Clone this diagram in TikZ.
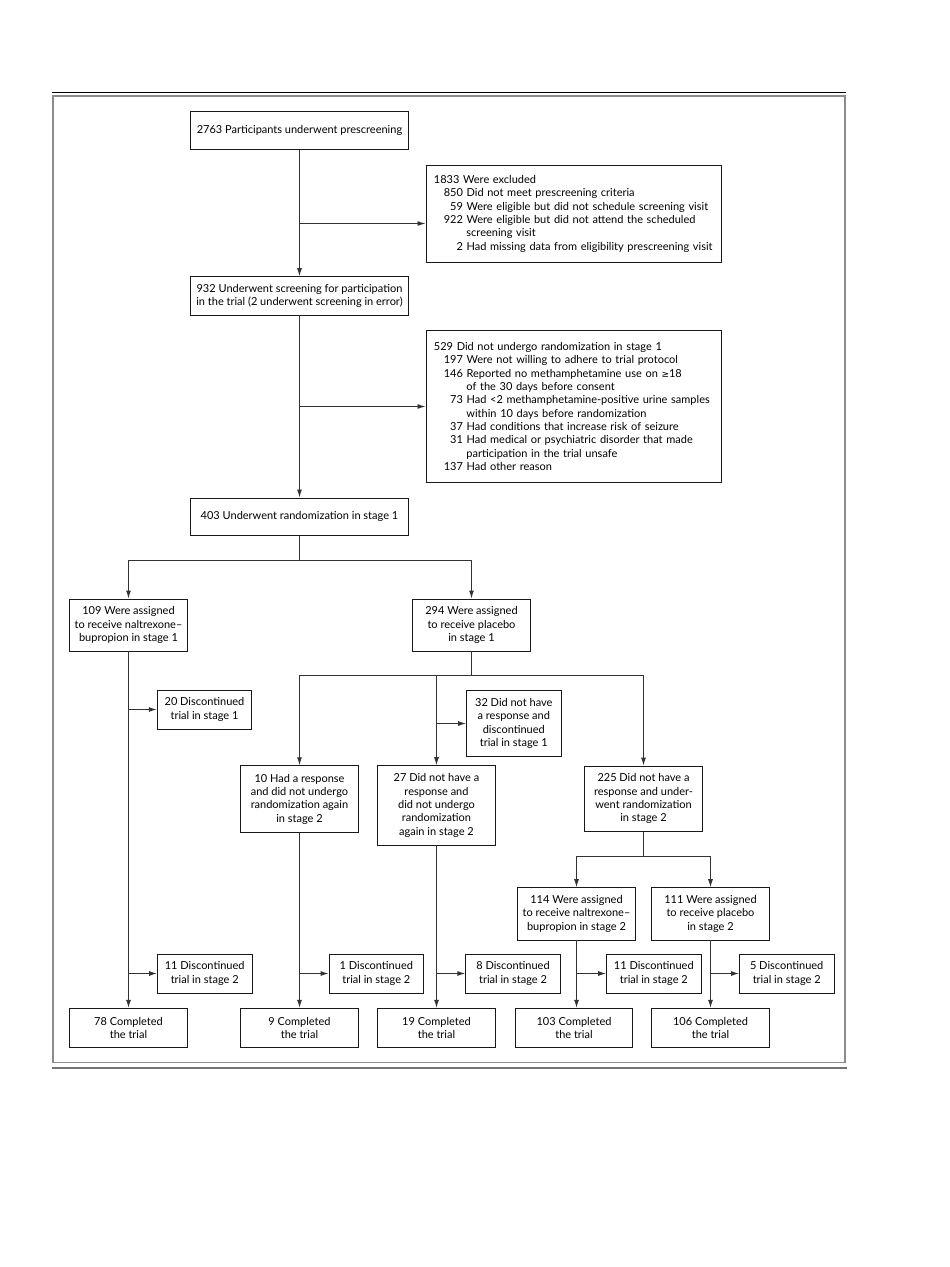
\documentclass[tikz,border=0pt]{standalone}
\usepackage{fontspec}
\setmainfont{Lato}
\newfontfamily\symfont{DejaVu Sans}
\usepackage{tikz}
\usetikzlibrary{positioning,arrows.meta}
\usepackage{xcolor}
\newcommand{\itm}[2]{\makebox[29pt][r]{#1} #2}
\newcommand{\cnt}[1]{\hspace*{32.5pt}#1}

\begin{document}
\begin{tikzpicture} [x=1pt, y=-1pt,
	box/.style={draw, black!90, line width=0.9pt, text=black, align=center, inner sep=0pt, font=\fontsize{11}{13.33}\selectfont},
	list/.style={box, align=left, inner xsep=8pt, text width=279.7pt},
	sidebox/.style={box, minimum width=94.5pt, minimum height=39pt},
	endbox/.style={box, minimum width=117.4pt, minimum height=39pt},
	arm/.style={box, minimum width=117.4pt},
	link/.style={black!80, line width=0.95pt},
	tip/.style={link, -{Latex[length=8pt, width=5pt]}}]
	\useasboundingbox (0, 0) rectangle (950, 1267);

	\draw [black, line width=1pt] (52, 92.5)--(846, 92.5);
	\draw [black!45, line width=1.1pt] (53, 96) rectangle (845, 1062.5);
	\draw [black!55, line width=2pt] (52, 1067.5)--(847, 1067.5);

	\node [box, minimum width=218pt, minimum height=37.6pt] (pre) at (299.5, 130.5) {2763 Participants underwent prescreening};
	\node [box, minimum width=218pt, minimum height=38.3pt] (scr) at (299.5, 295.8) {932 Underwent screening for participation\\in the trial (2 underwent screening in error)};
	\node [list, minimum height=97.3pt] (exc) at (573.8, 213.7) {1833 Were excluded\\
		\itm{850}{Did not meet prescreening criteria}\\
		\itm{59}{Were eligible but did not schedule screening visit}\\
		\itm{922}{Were eligible but did not attend the scheduled}\\
		\cnt{screening visit}\\
		\itm{2}{Had missing data from eligibility prescreening visit}};
	\node [list, minimum height=151.6pt] (nrd) at (573.8, 406.5) {529 Did not undergo randomization in stage 1\\
		\itm{197}{Were not willing to adhere to trial protocol}\\
		\itm{146}{Reported no methamphetamine use on {\symfont\fontsize{9}{10}\selectfont ≥}18}\\
		\cnt{of the 30 days before consent}\\
		\itm{73}{Had <2 methamphetamine-positive urine samples}\\
		\cnt{within 10 days before randomization}\\
		\itm{37}{Had conditions that increase risk of seizure}\\
		\itm{31}{Had medical or psychiatric disorder that made}\\
		\cnt{participation in the trial unsafe}\\
		\itm{137}{Had other reason}};
	\node [box, minimum width=218pt, minimum height=37.7pt] (rnd) at (299.5, 516.8) {403 Underwent randomization in stage 1};

	\node [arm, minimum height=52pt] (nb1) at (128.5, 625) {109 Were assigned\\to receive naltrexone–\\bupropion in stage 1};
	\node [arm, minimum height=52pt] (pl1) at (471.5, 625) {294 Were assigned\\to receive placebo\\in stage 1};
	\node [sidebox] (dc20) at (204.5, 709.5) {20 Discontinued\\trial in stage 1};
	\node [sidebox, minimum height=65.7pt] (dc32) at (513.8, 723.5) {32 Did not have\\a response and\\discontinued\\trial in stage 1};

	\node [arm, minimum height=66.6pt] (rsp10) at (299.5, 799) {10 Had a response\\and did not undergo\\randomization again\\in stage 2};
	\node [arm, minimum height=79.3pt] (nr27) at (436.5, 805.3) {27 Did not have a\\response and\\did not undergo\\randomization\\again in stage 2};
	\node [arm, minimum height=65.3pt] (rr225) at (643.5, 798.7) {225 Did not have a\\response and under-\\went randomization\\in stage 2};

	\node [arm, minimum width=118pt, minimum height=52.3pt] (nb2) at (576.5, 913.8) {114 Were assigned\\to receive naltrexone–\\bupropion in stage 2};
	\node [arm, minimum width=118pt, minimum height=52.3pt] (pl2) at (710.5, 913.8) {111 Were assigned\\to receive placebo\\in stage 2};

	\node [sidebox] (dc11a) at (204.7, 973.5) {11 Discontinued\\trial in stage 2};
	\node [sidebox] (dc1) at (376.3, 973.5) {1 Discontinued\\trial in stage 2};
	\node [sidebox] (dc8) at (513, 973.5) {8 Discontinued\\trial in stage 2};
	\node [sidebox] (dc11b) at (653.8, 973.5) {11 Discontinued\\trial in stage 2};
	\node [sidebox] (dc5) at (786.7, 973.5) {5 Discontinued\\trial in stage 2};

	\node [endbox] (cp78) at (128.5, 1027.8) {78 Completed\\the trial};
	\node [endbox] (cp9) at (299.5, 1027.8) {9 Completed\\the trial};
	\node [endbox] (cp19) at (436.5, 1027.8) {19 Completed\\the trial};
	\node [endbox] (cp103) at (574, 1027.8) {103 Completed\\the trial};
	\node [endbox] (cp106) at (710.5, 1027.8) {106 Completed\\the trial};

	\coordinate (ex) at (299.5, 223.5);
	\coordinate (s1) at (299.5, 560.5);
	\coordinate (s2) at (471.5, 675.5);
	\coordinate (s3) at (643.5, 856.5);

	\draw [tip] (pre.south)--(scr.north);
	\draw [tip] (ex)--(ex -| exc.west);
	\draw [tip] (scr.south)--(rnd.north);
	\draw [tip] (scr.south |- nrd.west)--(nrd.west);

	\draw [link] (rnd.south)--(s1);
	\draw [tip] (s1) -| (nb1.north);
	\draw [tip] (s1) -| (pl1.north);

	\draw [tip] (nb1.south)--(cp78.north);
	\draw [tip] (nb1.south |- dc20.west)--(dc20.west);
	\draw [tip] (nb1.south |- dc11a.west)--(dc11a.west);

	\draw [link] (pl1.south)--(s2);
	\draw [tip] (s2) -| (rsp10.north);
	\draw [tip] (s2) -| (rr225.north);
	\draw [tip] (s2 -| nr27.north)--(nr27.north);
	\draw [tip] (nr27.north |- dc32.west)--(dc32.west);

	\draw [tip] (rsp10.south)--(cp9.north);
	\draw [tip] (rsp10.south |- dc1.west)--(dc1.west);
	\draw [tip] (nr27.south)--(cp19.north);
	\draw [tip] (nr27.south |- dc8.west)--(dc8.west);

	\draw [link] (rr225.south)--(s3);
	\draw [tip] (s3) -| (nb2.north);
	\draw [tip] (s3) -| (pl2.north);

	\draw [tip] (nb2.south)--(nb2.south |- cp103.north);
	\draw [tip] (nb2.south |- dc11b.west)--(dc11b.west);
	\draw [tip] (pl2.south)--(cp106.north);
	\draw [tip] (pl2.south |- dc5.west)--(dc5.west);
\end{tikzpicture}
\end{document}
